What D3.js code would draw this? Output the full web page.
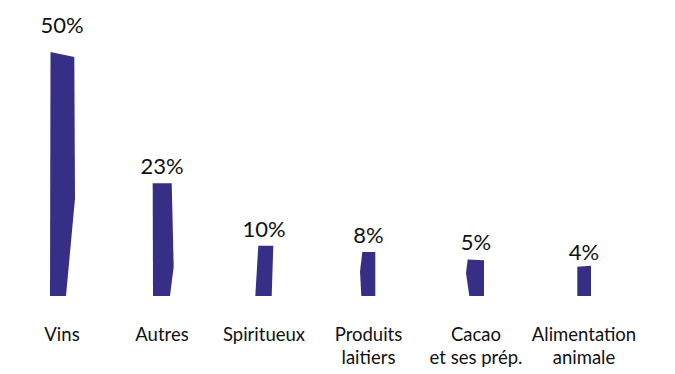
<!DOCTYPE html>
<html><head><meta charset="utf-8">
<script src="https://cdn.jsdelivr.net/npm/d3@7"></script>
<style>body{margin:0;background:#fff}svg{display:block}</style>
</head><body>
<svg id="c" width="675" height="374"></svg>
<script>
// ---- data ----
const categories = [["Vins"], ["Autres"], ["Spiritueux"], ["Produits", "laitiers"], ["Cacao", "et ses prép."], ["Alimentation", "animale"]];
const labelValues = [50, 23, 10, 8, 5, 4];           // printed percentages
const barValues = [50, 23.1, 10.3, 9.0, 7.5, 6.2];    // bar heights as drawn in the picture

// ---- style: hand-drawn bar outlines ([x offset px from centre, fraction of height]) ----
const barShapes = [
  [[-11.5, 1], [12.3, 0.98], [13, 0.40], [4, 0], [-12, 0]],
  [[-9.3, 1], [9.7, 1], [11.7, 0.26], [8, 0], [-9, 0]],
  [[-5.7, 1], [9.3, 1], [7.7, 0], [-8.7, 0]],
  [[-6.2, 1], [6.8, 1], [6.8, 0], [-7.2, 0], [-8.5, 0.556]],
  [[-8.3, 1], [8, 0.98], [8, 0], [-6.7, 0], [-10, 0.62]],
  [[-6.7, 0.967], [7, 1], [7, 0], [-6.7, 0]]
];
const labelGap = [19, 9, 9, 9, 9, 6];
const barColor = "#372f86";

const svg = d3.select("#c");
// slots are not evenly spaced in the original layout
const x = d3.scaleLinear().domain([0, 1, 2, 3, 4, 5]).range([62, 162, 264, 368.5, 476, 584]);
const y = d3.scaleLinear().domain([0, 50]).range([296, 52]);

const g = svg.append("g");
categories.forEach((cat, i) => {
  const cx = x(i);
  const y0 = y(0), y1 = y(barValues[i]);
  const pts = barShapes[i].map(([dx, t]) => [cx + dx, y0 + (y1 - y0) * t]);
  g.append("path")
    .attr("d", d3.line()(pts) + "Z")
    .attr("fill", barColor);
  g.append("text")
    .attr("x", cx)
    .attr("y", y1 - labelGap[i])
    .attr("text-anchor", "middle")
    .attr("font-family", "Lato, 'Open Sans', sans-serif")
    .attr("font-size", 22)
    .attr("fill", "#111")
    .text(labelValues[i] + "%");
  const t = g.append("text")
    .attr("x", cx)
    .attr("y", 341)
    .attr("text-anchor", "middle")
    .attr("font-family", "Lato, 'Open Sans', sans-serif")
    .attr("font-size", 18.5)
    .attr("fill", "#111");
  cat.forEach((line, k) => {
    t.append("tspan").attr("x", cx).attr("dy", k === 0 ? 0 : 23).text(line);
  });
});
</script>
</body></html>
